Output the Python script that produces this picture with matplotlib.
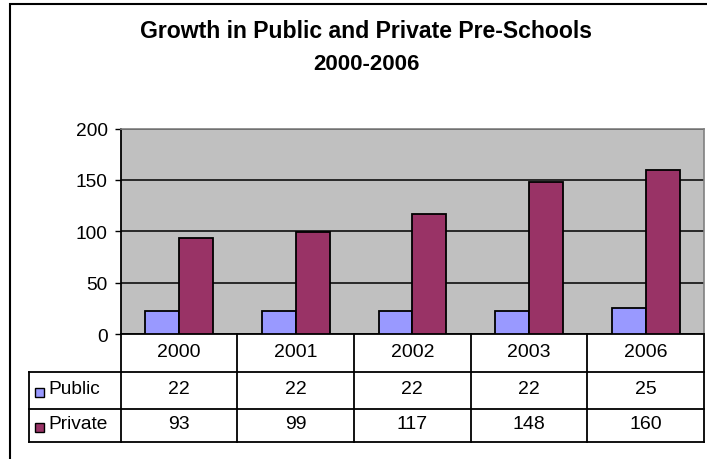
import matplotlib
matplotlib.use("Agg")
import matplotlib.pyplot as plt
from matplotlib.patches import Rectangle
from matplotlib.lines import Line2D
from matplotlib.transforms import blended_transform_factory
import numpy as np

plt.rcParams['font.family'] = ['Liberation Sans', 'DejaVu Sans']

years = ["2000", "2001", "2002", "2003", "2006"]
public = [22, 22, 22, 22, 25]
private = [93, 99, 117, 148, 160]
series_names = ["Public", "Private"]
yticks = [0, 50, 100, 150, 200]

PUBLIC_COLOR = "#9999FF"
PRIVATE_COLOR = "#993366"
PLOT_BG = "#C0C0C0"

W, H = 707, 460
fig = plt.figure(figsize=(W / 100, H / 100), dpi=100)


def fx(px):
    return px / W


def fy(py):
    return 1 - py / H


# plot area in pixel terms
left_px, right_px, top_px, bottom_px = 120.7, 704.0, 129.5, 335.0
ax = fig.add_axes([fx(left_px), fy(bottom_px),
                   fx(right_px) - fx(left_px), fy(top_px) - fy(bottom_px)])
ax.set_facecolor(PLOT_BG)

x = np.arange(len(years))
bw = 0.29
ax.bar(x - bw / 2, public, bw, color=PUBLIC_COLOR, edgecolor="black",
       linewidth=1.3, zorder=3)
ax.bar(x + bw / 2, private, bw, color=PRIVATE_COLOR, edgecolor="black",
       linewidth=1.3, zorder=3)

ax.set_xlim(-0.5, len(years) - 0.5)
ax.set_ylim(0, 200)
ax.set_yticks(yticks)
ax.set_yticklabels([str(t) for t in yticks], fontsize=13.8)
ax.tick_params(axis="y", direction="out", length=4.5, width=1.0, pad=5.0,
               colors="black")
ax.set_xticks([])
ax.yaxis.grid(True, color="black", linewidth=1.1, zorder=1)
ax.set_axisbelow(True)

for side in ("top", "right"):
    ax.spines[side].set_color("#808080")
    ax.spines[side].set_linewidth(1.2)
for side in ("left", "bottom"):
    ax.spines[side].set_color("black")
    ax.spines[side].set_linewidth(1.3)

# data table below the plot
trans = blended_transform_factory(ax.transData, fig.transFigure)
row_edges = [335.0, 372.5, 410.0, 443.0]
label_left = 29.5
lw = 1.3
fs = 14

# horizontal lines
fig.add_artist(Line2D([fx(left_px), fx(right_px)], [fy(row_edges[1])] * 2,
                      color="black", lw=lw))
fig.add_artist(Line2D([fx(label_left), fx(left_px)], [fy(row_edges[1])] * 2,
                      color="black", lw=lw))
for r in row_edges[2:]:
    fig.add_artist(Line2D([fx(label_left), fx(right_px)], [fy(r)] * 2,
                          color="black", lw=lw))

# vertical lines
fig.add_artist(Line2D([fx(label_left)] * 2, [fy(row_edges[1]), fy(row_edges[3])],
                      color="black", lw=lw))
fig.add_artist(Line2D([fx(left_px)] * 2, [fy(row_edges[0]), fy(row_edges[3])],
                      color="black", lw=lw))
for i in range(len(years)):
    xb = i + 0.5
    ax.add_artist(Line2D([xb, xb], [fy(row_edges[0]), fy(row_edges[3])],
                         color="black", lw=lw, transform=trans, clip_on=False))


def row_center(k):
    return fy((row_edges[k] + row_edges[k + 1]) / 2 - 1.5)


for i, yr in enumerate(years):
    ax.text(i, row_center(0), yr, transform=trans, ha="center", va="center",
            fontsize=fs)
    ax.text(i, row_center(1), str(public[i]), transform=trans, ha="center",
            va="center", fontsize=fs)
    ax.text(i, row_center(2), str(private[i]), transform=trans, ha="center",
            va="center", fontsize=fs)

# legend keys inside the table
for k, (name, col) in enumerate(zip(series_names, [PUBLIC_COLOR, PRIVATE_COLOR])):
    cy = (row_edges[k + 1] + row_edges[k + 2]) / 2 + 2
    sq = 8.5
    fig.add_artist(Rectangle((fx(35), fy(cy + sq / 2)), fx(sq), sq / H,
                             facecolor=col, edgecolor="black", lw=1.0))
    fig.text(fx(48), row_center(k + 1), name, ha="left", va="center",
             fontsize=13.8)

# title (two centred lines)
fig.text(fx(366), fy(37.5), "Growth in Public and Private Pre-Schools",
         ha="center", va="baseline", fontsize=16.6, fontweight="bold")
fig.text(fx(366), fy(69.5), "2000-2006", ha="center", va="baseline",
         fontsize=16.0, fontweight="bold")

# outer chart frame
fig.add_artist(Rectangle((fx(9.5), fy(500)), fx(800), (500 - 5) / H,
                         facecolor="none", edgecolor="black", lw=1.5,
                         clip_on=False))

fig.savefig("out.png", dpi=100)
